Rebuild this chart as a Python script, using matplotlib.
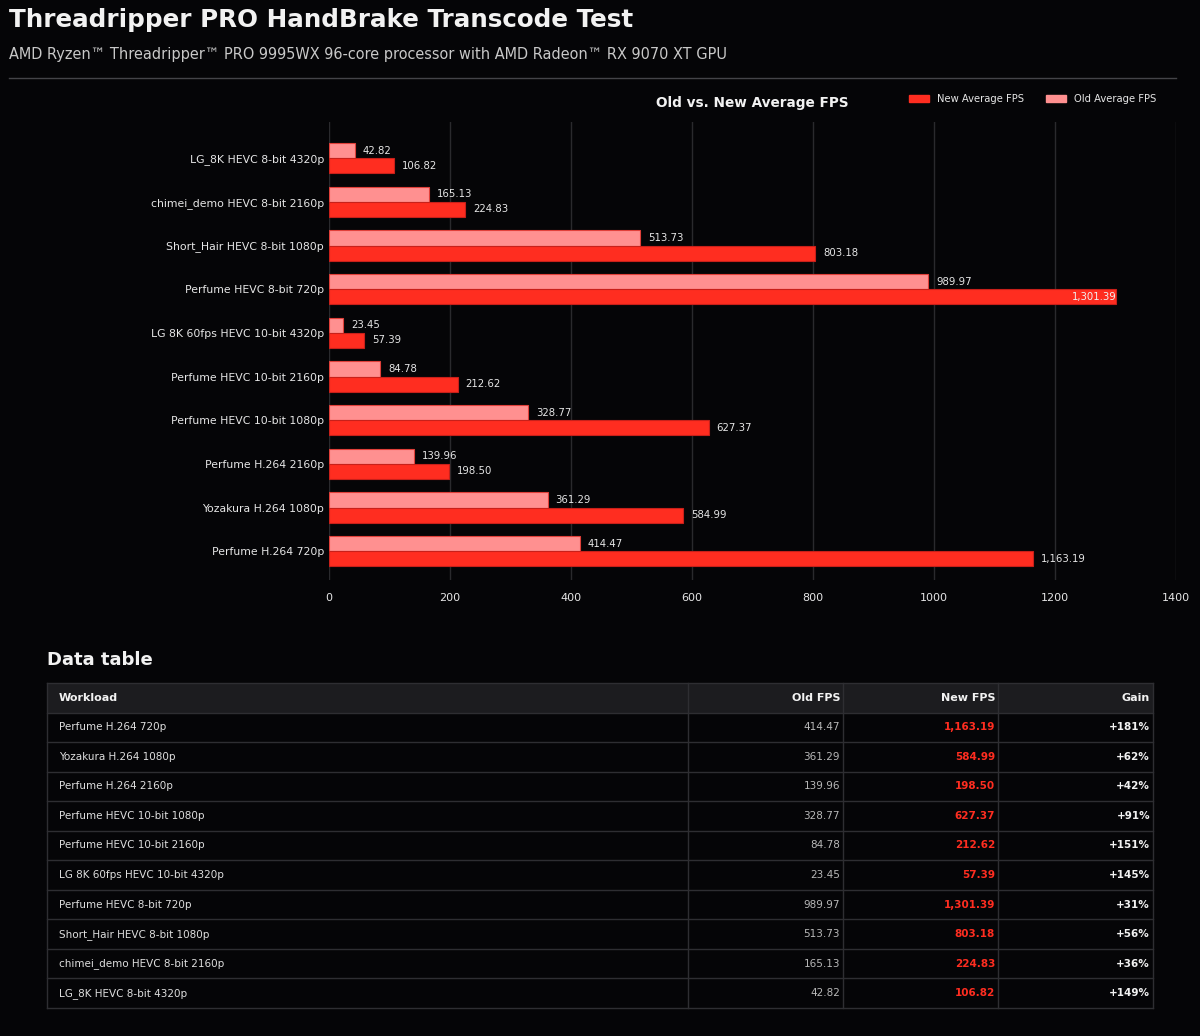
import matplotlib
matplotlib.use("Agg")
import matplotlib.pyplot as plt
from matplotlib.patches import Rectangle
from matplotlib.lines import Line2D

plt.rcParams['font.family'] = ['DejaVu Sans']

BG = '#050507'
NEW_C = '#ff2d20'
OLD_C = '#ff9090'
GRID_C = '#2a2a2d'
TXT = '#e6e6e6'

# ---- data (chart order, top to bottom) ----
workloads = [
    "LG_8K HEVC 8-bit 4320p",
    "chimei_demo HEVC 8-bit 2160p",
    "Short_Hair HEVC 8-bit 1080p",
    "Perfume HEVC 8-bit 720p",
    "LG 8K 60fps HEVC 10-bit 4320p",
    "Perfume HEVC 10-bit 2160p",
    "Perfume HEVC 10-bit 1080p",
    "Perfume H.264 2160p",
    "Yozakura H.264 1080p",
    "Perfume H.264 720p",
]
old_fps = [42.82, 165.13, 513.73, 989.97, 23.45, 84.78, 328.77, 139.96, 361.29, 414.47]
new_fps = [106.82, 224.83, 803.18, 1301.39, 57.39, 212.62, 627.37, 198.50, 584.99, 1163.19]
x_ticks = [0, 200, 400, 600, 800, 1000, 1200, 1400]
table_headers = ["Workload", "Old FPS", "New FPS", "Gain"]

W, H = 1200, 1036
fig = plt.figure(figsize=(W / 100, H / 100), dpi=100, facecolor=BG)

def fx(px):
    return px / W

def fy(py):
    return 1 - py / H

# ---- header ----
fig.text(fx(9), fy(20), "Threadripper PRO HandBrake Transcode Test", fontsize=17.7,
         fontweight='bold', color='#f2f2f2', va='center', ha='left')
fig.text(fx(9), fy(55), "AMD Ryzen™ Threadripper™ PRO 9995WX 96-core processor with AMD Radeon™ RX 9070 XT GPU",
         fontsize=11.65, fontstretch='condensed', color='#c8c8c8', va='center', ha='left')
fig.add_artist(Line2D([fx(9), fx(1176)], [fy(78), fy(78)], color='#444448', lw=1))

# ---- chart ----
ax = fig.add_axes([fx(329), fy(580), fx(1176) - fx(329), fy(122) - fy(580)])
ax.set_facecolor(BG)
n = len(workloads)
ys = list(range(n))
bh = 0.345
ax.barh([y - bh / 2 for y in ys], old_fps, height=bh, color=OLD_C, edgecolor='#e0403a', linewidth=0.8, zorder=3)
ax.barh([y + bh / 2 for y in ys], new_fps, height=bh, color=NEW_C, edgecolor='#c8201a', linewidth=0.8, zorder=3)
ax.set_xlim(0, 1400)
ax.set_ylim(n - 1 + 0.66, -0.83)
ax.set_xticks(x_ticks)
ax.set_xticklabels([str(t) for t in x_ticks])
ax.set_yticks(ys)
ax.set_yticklabels(workloads)
ax.tick_params(axis='both', length=0, colors=TXT, labelsize=8)
ax.tick_params(axis='y', labelsize=7.85)
ax.tick_params(axis='x', pad=9.5)
ax.tick_params(axis='y', pad=3.5)
for s in ax.spines.values():
    s.set_visible(False)
ax.grid(axis='x', color=GRID_C, lw=1, zorder=0)

pxv = 1400 / (1176 - 329)
for y, o, nv in zip(ys, old_fps, new_fps):
    ax.text(o + 8 * pxv, y - bh / 2, f"{o:,.2f}", color=TXT, fontsize=7.3, va='center', ha='left', zorder=4)
    if nv + 70 * pxv > 1400 or nv > 1250:
        ax.text(nv + 1, y + bh / 2, f"{nv:,.2f}", color='#f0f0f0', fontsize=7.3, va='center', ha='right', zorder=4)
    else:
        ax.text(nv + 8 * pxv, y + bh / 2, f"{nv:,.2f}", color=TXT, fontsize=7.3, va='center', ha='left', zorder=4)

fig.text(fx(752), fy(103), "Old vs. New Average FPS", fontsize=9.8, fontweight='bold',
         color='#f2f2f2', ha='center', va='center')
# legend
for x0, col, lab in [(909, NEW_C, "New Average FPS"), (1046, OLD_C, "Old Average FPS")]:
    fig.add_artist(Rectangle((fx(x0), fy(102)), fx(20), fy(95) - fy(102), color=col, transform=fig.transFigure))
    fig.text(fx(x0 + 28), fy(98.5), lab, fontsize=7.2, color=TXT, va='center', ha='left')

# ---- data table ----
fig.text(fx(47), fy(660), "Data table", fontsize=13, fontweight='bold', color='#f2f2f2',
         va='center', ha='left')

tx0, tx1, ty0, ty1 = 47, 1153, 683, 1008
tax = fig.add_axes([fx(tx0), fy(ty1), fx(tx1) - fx(tx0), fy(ty0) - fy(ty1)])
tax.set_facecolor(BG)
tax.axis('off')
col_px = [47, 688, 843, 998, 1153]
cols = [(c - tx0) / (tx1 - tx0) for c in col_px]
nrows = n + 1
tax.set_xlim(0, 1)
tax.set_ylim(nrows, 0)

tax.add_patch(Rectangle((0, 0), 1, 1, facecolor='#1c1c1f', edgecolor='none'))
rows = list(zip(workloads, old_fps, new_fps))[::-1]
padl = 12 / (tx1 - tx0)
padr = 3 / (tx1 - tx0)
hdr_align = ['left', 'right', 'right', 'right']
for j, h in enumerate(table_headers):
    xx = cols[j] + padl if j == 0 else cols[j + 1] - padr
    tax.text(xx, 0.5, h, fontsize=8.0, fontweight='bold', color='#f2f2f2', ha=hdr_align[j], va='center')
for i, (wl, o, nv) in enumerate(rows):
    yc = i + 1.5
    gain = round((nv / o - 1) * 100)
    tax.text(cols[0] + padl, yc, wl, fontsize=7.5, color='#dedede', ha='left', va='center')
    tax.text(cols[2] - padr, yc, f"{o:,.2f}", fontsize=7.5, color='#b8b8b8', ha='right', va='center')
    tax.text(cols[3] - padr, yc, f"{nv:,.2f}", fontsize=7.5, fontweight='bold', color=NEW_C, ha='right', va='center')
    tax.text(cols[4] - padr, yc, f"+{gain}%", fontsize=7.5, fontweight='bold', color='#f2f2f2', ha='right', va='center')

line_c = '#2e2e32'
for r in range(nrows + 1):
    tax.plot([0, 1], [r, r], color=line_c, lw=1, clip_on=False)
for c in cols:
    tax.plot([c, c], [0, nrows], color=line_c, lw=1, clip_on=False)

fig.savefig("out.png", dpi=100, facecolor=BG)
